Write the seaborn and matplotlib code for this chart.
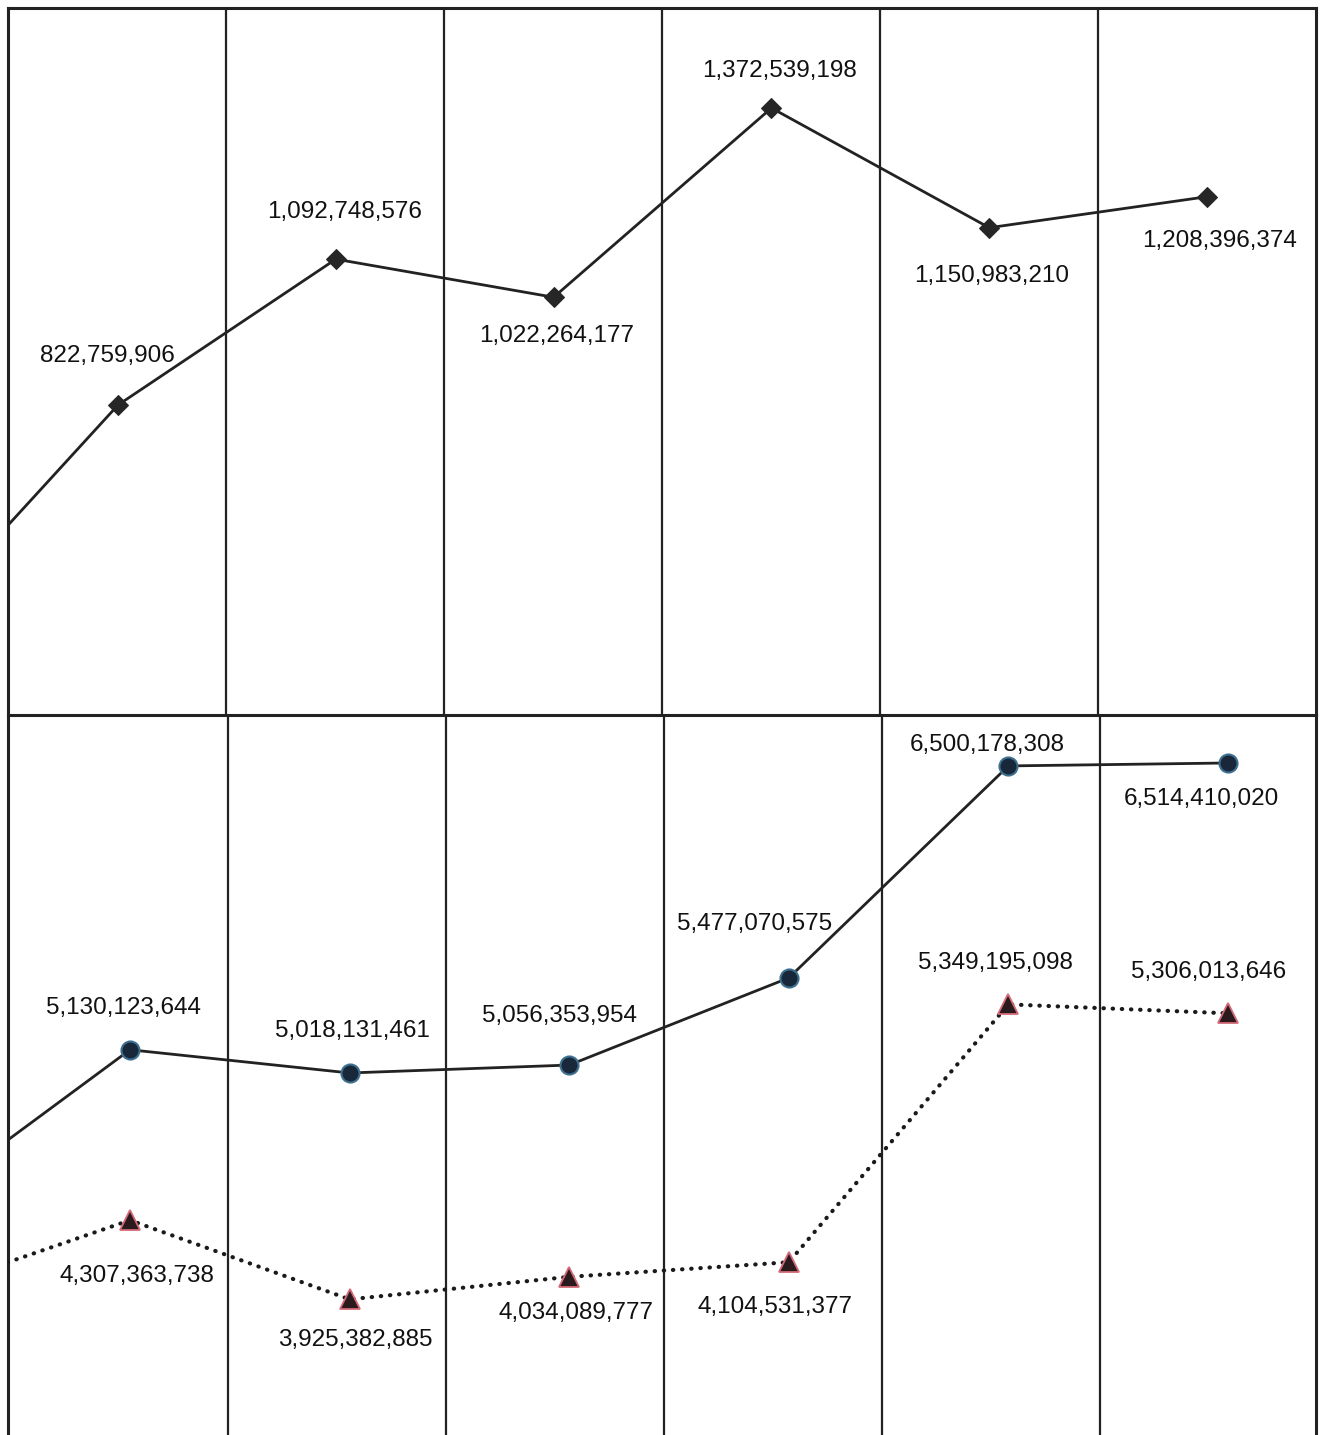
import matplotlib
matplotlib.use("Agg")
import matplotlib.pyplot as plt
import seaborn as sns
import pandas as pd

# Period index; -1 is the preceding period, whose segment enters from the left edge
periods = [-1, 0, 1, 2, 3, 4, 5]

# Upper panel series (diamonds)
upper_values = [382000000, 822759906, 1092748576, 1022264177, 1372539198, 1150983210, 1208396374]

# Lower panel series (circles, solid) and (triangles, dotted)
circle_values = [4347000000, 5130123644, 5018131461, 5056353954, 5477070575, 6500178308, 6514410020]
triangle_values = [3942000000, 4307363738, 3925382885, 4034089777, 4104531377, 5349195098, 5306013646]

# Label offsets (points) relative to each visible marker
upper_offsets = [(-8, 35), (6, 34), (2, -28), (6, 27), (2, -35), (9, -32)]
circle_offsets = [(-5, 30), (2, 30), (-7, 35), (-25, 39), (-15, 15), (-19, -26)]
triangle_offsets = [(5, -40), (4, -29), (5, -26), (-10, -32), (-9, 30), (-14, 30)]

sns.set_theme(style="white")
plt.rcParams["font.family"] = ["Liberation Sans", "DejaVu Sans"]

W, H = 1320, 1435
fig = plt.figure(figsize=(W / 100, H / 100), dpi=100)
fig.patch.set_facecolor("white")

x0, x1 = 8 / W, 1316 / W
ax_bot = fig.add_axes([x0, 0.0, x1 - x0, (H - 715) / H])
ax_top = fig.add_axes([x0, (H - 715) / H, x1 - x0, (715 - 8) / H])

frame_lw = 2.2
grid_lw = 1.6
line_lw = 2.0
text_kw = dict(fontsize=17.5, color="#111111", ha="center", va="center",
               textcoords="offset points")

df_up = pd.DataFrame({"period": periods, "value": upper_values})
df_c = pd.DataFrame({"period": periods, "value": circle_values})
df_t = pd.DataFrame({"period": periods, "value": triangle_values})

# Upper panel
sns.lineplot(data=df_up, x="period", y="value", ax=ax_top, color="#222222",
             linewidth=line_lw, marker="D", markersize=10, markerfacecolor="#262626",
             markeredgecolor="#262626", zorder=3)
ax_top.set_xlim(-0.505, 5.5)
ax_top.set_ylim(248.9e6, 1557.7e6)
for (px, val), off in zip(list(zip(periods, upper_values))[1:], upper_offsets):
    ax_top.annotate(f"{val:,}", (px, val), xytext=off, **text_kw)

# Lower panel
sns.lineplot(data=df_c, x="period", y="value", ax=ax_bot, color="#222222",
             linewidth=line_lw, marker="o", markersize=13, markerfacecolor="#18283a",
             markeredgecolor="#3d6f8f", markeredgewidth=1.5, zorder=3)
sns.lineplot(data=df_t, x="period", y="value", ax=ax_bot, color="#1a1a1a",
             linewidth=3.0, linestyle=(0, (0.1, 2.1)), dash_capstyle="round",
             marker="^", markersize=14, markerfacecolor="#2a1a1e",
             markeredgecolor="#d46a78", markeredgewidth=1.3, zorder=3)
ax_bot.set_xlim(-0.5556, 5.4007)
ax_bot.set_ylim(3270.6e6, 6746e6)
for (px, val), off in zip(list(zip(periods, circle_values))[1:], circle_offsets):
    ax_bot.annotate(f"{val:,}", (px, val), xytext=off, **text_kw)
for (px, val), off in zip(list(zip(periods, triangle_values))[1:], triangle_offsets):
    ax_bot.annotate(f"{val:,}", (px, val), xytext=off, **text_kw)

# Column dividers and frame
for ax, shift in ((ax_top, 0.0), (ax_bot, 0.0012)):
    ax.set_xticks([])
    ax.set_yticks([])
    ax.set_xlabel("")
    ax.set_ylabel("")
    ax.patch.set_alpha(0.0)
    ax.vlines([k / 6 + shift for k in range(1, 6)], 0, 1, transform=ax.transAxes,
              colors="#222222", linewidth=grid_lw, zorder=1)
    for s in ax.spines.values():
        s.set_color("#222222")
        s.set_linewidth(frame_lw)
ax_bot.spines["bottom"].set_visible(False)
ax_bot.spines["top"].set_visible(False)

fig.savefig("out.png", dpi=100, facecolor="white")
